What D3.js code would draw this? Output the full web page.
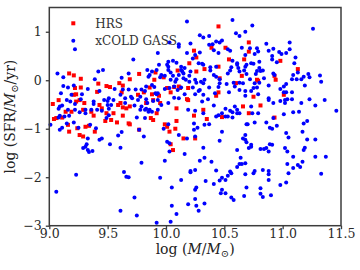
<!DOCTYPE html>
<html>
<head>
<meta charset="utf-8">
<script src="https://cdn.jsdelivr.net/npm/d3@7"></script>
<style>
  body { margin: 0; background: #fff; }
  svg { display: block; font-family: "DejaVu Serif", serif; }
</style>
</head>
<body>
<svg id="chart" width="360" height="270"></svg>
<script>
// axis ticks
const xTicks = [9.0, 9.5, 10.0, 10.5, 11.0, 11.5];
const yTicks = [-3, -2, -1, 0, 1];

// HRS galaxies: [log M, log SFR]
const hrsPoints = [
  [9.17,0.14],[9.21,0.10],[9.77,0.13],[9.42,-0.07],[9.49,-0.12],[9.52,-0.14],[9.60,-0.06],[9.69,0.02],[9.63,-0.11],[9.27,0.03],
  [9.22,-0.16],[9.27,-0.15],[9.41,-0.24],[9.62,-0.25],[9.81,-0.25],[9.21,-0.30],[9.23,-0.29],[9.76,-0.30],[9.83,-0.47],[9.08,-0.41],
  [9.23,-0.44],[9.26,-0.41],[9.30,-0.47],[9.43,-0.51],[9.45,-0.58],[9.59,-0.51],[9.61,-0.47],[9.63,-0.56],[9.66,-0.58],[9.69,-0.54],
  [9.03,-0.49],[9.14,-0.65],[9.19,-0.65],[9.29,-0.61],[9.36,-0.65],[9.38,-0.73],[9.49,-0.68],[9.55,-0.68],[9.48,-0.84],[9.53,-0.82],
  [9.58,-0.87],[9.63,-0.73],[9.68,-0.89],[9.69,-0.91],[9.04,-0.80],[9.06,-0.78],[9.11,-0.77],[9.16,-0.92],[9.17,-1.06],[9.24,-0.99],
  [9.31,-0.96],[9.34,-0.94],[9.39,-1.06],[9.26,-1.13],[9.29,-1.16],[9.77,-1.02],
  [9.86,-0.15],[9.88,-0.29],[9.94,-0.32],[10.01,-0.16],[10.04,-0.25],[10.11,-0.13],[10.19,-0.16],[10.45,-0.25],[10.43,-0.32],[9.89,-0.41],
  [9.95,-0.47],[10.18,-0.39],[10.19,-0.41],[10.66,-0.54],[10.71,-0.68],[10.48,-0.76],[9.87,-0.78],[9.89,-0.82],[9.92,-0.68],[10.09,-0.58],
  [10.24,-0.73],[10.32,-0.61],[10.35,-0.80],[10.09,-0.84],[9.99,-0.91],[10.01,-0.96],[10.03,-1.06],[10.08,-1.00],[10.15,-1.20],[10.25,-1.20],
  [10.04,-1.32],[10.06,-1.44],
  [10.75,-0.34],[11.01,-0.30],[10.81,-0.52],[10.93,-0.77],
  [10.45,1.11],[10.71,0.78],[10.39,0.67],[10.51,0.67],[10.71,0.59],[10.24,0.61],[10.54,0.43],[10.67,0.43],[10.20,0.35],[10.26,0.47],
  [10.45,0.28],[10.65,0.09],[10.78,0.01],[9.91,0.16],[9.90,0.01],[10.10,0.20],[10.26,0.18],[10.33,0.23],[10.46,0.04],[10.60,-0.06],
  [10.07,-0.14],[10.12,-0.16],[10.79,-0.01],[9.98,0.06],
  [10.98,0.40],[11.13,0.23],[10.93,0.09],[10.94,0.01]
];

// xCOLD GASS galaxies: [log M, log SFR]
const xcgPoints = [
  [9.22,0.64],[9.72,0.43],[9.07,0.14],[9.12,0.06],[9.42,0.18],[9.46,0.21],[9.84,0.21],[9.68,0.14],[9.39,0.02],[9.62,0.05],
  [9.21,-0.11],[9.85,0.07],[9.12,-0.12],
  [9.16,-0.15],[9.33,-0.18],[9.43,-0.22],[9.56,-0.18],[9.63,-0.19],[9.68,-0.19],[9.74,-0.19],[9.79,-0.19],[9.82,-0.22],[9.10,-0.27],
  [9.19,-0.30],[9.28,-0.29],[9.51,-0.37],[9.61,-0.30],[9.65,-0.37],[9.70,-0.34],[9.71,-0.37],[9.78,-0.34],[9.76,-0.41],[9.15,-0.41],
  [9.18,-0.44],[9.22,-0.49],[9.27,-0.39],[9.38,-0.44],[9.38,-0.49],[9.47,-0.41],[9.50,-0.43],[9.50,-0.51],[9.53,-0.51],[9.55,-0.41],
  [9.65,-0.47],[9.73,-0.52],[9.78,-0.61],[9.79,-0.54],[9.83,-0.59],[9.09,-0.54],[9.08,-0.59],[9.11,-0.52],[9.16,-0.61],[9.22,-0.61],
  [9.26,-0.66],[9.31,-0.61],[9.31,-0.68],[9.36,-0.61],[9.41,-0.61],[9.45,-0.63],[9.51,-0.59],[9.51,-0.72],[9.49,-0.78],[9.75,-0.77],
  [9.82,-0.78],[9.08,-0.77],[9.09,-0.73],[9.13,-0.75],[9.17,-0.73],[9.21,-0.87],[9.15,-0.89],[9.11,-0.98],[9.09,-1.02],[9.25,-0.98],
  [9.35,-0.92],[9.40,-0.99],[9.45,-1.20],[9.43,-1.23],[9.33,-1.20],[9.52,-1.32],[9.59,-1.14],[9.62,-1.07],[9.77,-1.02],[9.81,-1.16],
  [9.31,-1.37],[9.29,-1.40],[9.32,-1.32],[9.33,-1.44],[9.34,-1.48],[9.37,-1.46],[9.61,-1.39],[9.01,-0.92],
  [9.83,-0.13],[9.91,-0.27],[9.92,-0.29],[9.93,-0.27],[9.99,-0.18],[10.07,-0.13],[10.10,-0.20],[10.13,-0.15],[10.23,-0.15],[10.28,-0.22],
  [10.29,-0.20],[10.37,-0.15],[10.42,-0.27],[10.54,-0.25],[10.59,-0.13],[10.63,-0.20],[10.68,-0.22],[10.68,-0.32],[9.83,-0.39],[9.84,-0.47],
  [9.89,-0.43],[9.93,-0.41],[9.96,-0.51],[10.02,-0.47],[10.07,-0.36],[10.11,-0.37],[10.16,-0.29],[10.25,-0.29],[10.32,-0.30],[10.36,-0.39],
  [10.41,-0.52],[10.31,-0.44],[10.48,-0.68],[10.51,-0.59],[10.55,-0.63],[10.57,-0.66],[10.59,-0.54],[10.61,-0.61],[10.63,-0.68],[10.45,-0.72],
  [10.43,-0.75],[10.51,-0.75],[10.53,-0.75],[10.57,-0.77],[10.61,-0.68],
  [9.82,-0.61],[9.85,-0.65],[9.86,-0.61],[9.88,-0.65],[9.93,-0.61],[10.19,-0.61],[10.25,-0.63],[10.32,-0.68],[10.24,-0.89],[10.02,-0.91],
  [9.98,-1.00],[10.27,-0.98],[10.24,-1.02],[10.33,-0.92],[10.37,-0.91],[10.48,-1.06],[10.69,-0.91],[10.11,-1.13],[10.18,-1.20],[10.25,-1.16],
  [10.46,-1.25],[10.66,-1.20],[10.68,-1.23],[10.69,-1.28],[10.01,-1.27],[10.03,-1.30],[10.32,-1.39],[10.71,-1.40],[10.03,-1.47],[10.16,-1.52],
  [10.33,-1.60],[10.61,-1.44],[10.64,-1.60],
  [10.73,-0.22],[10.75,-0.16],[10.78,-0.15],[10.79,-0.29],[10.88,-0.11],[10.98,-0.18],[11.01,-0.13],[11.01,-0.25],[11.03,-0.25],[11.08,-0.25],
  [11.19,-0.11],[10.88,-0.37],[10.88,-0.41],[10.92,-0.47],[10.98,-0.43],[11.02,-0.41],[11.04,-0.39],[11.08,-0.39],[11.02,-0.47],[10.73,-0.54],
  [11.16,-0.47],[11.23,-0.39],[11.36,-0.41],[11.28,-0.52],[10.74,-0.68],[10.79,-0.68],[11.46,-0.63],[11.09,-0.66],[11.14,-0.65],[10.92,-0.78],
  [11.01,-0.70],[11.21,-0.84],[11.18,-0.89],[10.70,-0.91],[10.76,-0.87],[10.86,-0.87],[10.89,-0.98],[10.91,-1.00],[10.95,-0.94],[11.03,-1.09],
  [11.17,-1.06],[10.68,-1.13],[11.05,-1.18],[11.21,-1.22],[11.28,-1.22],[10.73,-1.33],[10.73,-1.37],[10.89,-1.32],[10.91,-1.33],[10.81,-1.42],
  [10.84,-1.42],[10.86,-1.40],[10.88,-1.47],[11.02,-1.40],[11.04,-1.47],[11.19,-1.39],[11.18,-1.44],[11.09,-1.58],[11.28,-1.58],[11.37,-1.58],
  [9.23,-1.95],[9.06,-2.30],[9.64,-1.89],[9.66,-1.99],[9.68,-2.00],[9.79,-1.70],[9.73,-2.42],[9.61,-2.69],[9.75,-2.79],
  [9.99,-1.66],[10.29,-1.66],[10.39,-1.68],[10.68,-1.71],[10.65,-1.73],[10.63,-1.73],[10.61,-1.79],[10.21,-1.87],[10.21,-1.90],[10.25,-1.85],
  [10.43,-1.86],[10.55,-1.88],[10.56,-1.92],[10.53,-1.97],[10.48,-2.01],[10.51,-2.06],[10.46,-2.07],[10.68,-1.94],[9.95,-2.01],[10.13,-2.06],
  [10.34,-2.08],[10.41,-2.14],[10.05,-2.21],[10.26,-2.21],[10.25,-2.26],[10.69,-2.21],[10.48,-2.26],[10.47,-2.33],[10.51,-2.33],[10.56,-2.42],
  [10.58,-2.47],[10.67,-2.39],[10.25,-2.45],[10.19,-2.56],[10.33,-2.54],[10.05,-2.59],[10.26,-2.59],[10.28,-2.69],[10.09,-2.76],[9.92,-2.94],
  [10.04,-2.92],
  [11.17,-1.68],[11.04,-1.73],[11.13,-1.75],[11.15,-1.79],[11.09,-1.81],[10.76,-1.87],[10.75,-1.92],[10.83,-1.85],[10.88,-1.87],[10.88,-1.94],
  [11.05,-1.92],[11.33,-1.93],[10.88,-2.06],[11.03,-2.11],[10.98,-2.16],[10.81,-2.23],[10.81,-2.34],[10.83,-2.41],[10.90,-2.37],
  [10.18,1.21],[10.57,1.24],[10.60,0.97],[10.63,0.91],[10.68,1.00],[10.29,0.93],[10.32,0.88],[10.37,0.91],[10.48,0.82],[10.46,0.78],
  [10.43,0.80],[10.40,0.74],[10.37,0.73],[9.93,0.56],[10.03,0.78],[10.11,0.74],[10.11,0.69],[10.21,0.76],[10.41,0.62],[10.53,0.64],
  [10.55,0.61],[10.65,0.67],[10.72,0.66],[10.29,0.57],[10.18,0.56],[10.25,0.52],[10.23,0.45],[10.45,0.56],[10.68,0.52],[10.79,0.59],
  [10.02,0.38],[10.06,0.40],[10.09,0.36],[10.01,0.32],[10.02,0.28],[10.28,0.35],[10.31,0.34],[10.32,0.32],[10.38,0.27],[10.43,0.28],
  [10.57,0.40],[10.61,0.35],[10.61,0.32],[10.56,0.27],[10.55,0.20],[10.53,0.14],[10.69,0.32],[10.68,0.28],[10.67,0.20],[10.73,0.35],
  [10.62,0.25],[10.63,0.18],[10.69,0.13],[10.77,0.13],[9.94,0.32],[9.92,0.21],[9.88,0.18],[9.86,0.11],[10.02,0.21],[10.04,0.16],
  [10.13,0.28],[10.13,0.21],[10.14,0.18],[10.15,0.14],[10.11,0.11],[10.16,0.25],[10.21,0.18],[10.20,0.09],[10.38,0.20],[10.41,0.11],
  [10.43,0.07],[10.46,0.02],[10.33,0.01],[9.96,0.11],[9.95,0.06],[9.99,0.09],[10.06,0.09],[10.09,0.02],[10.04,0.01],[10.08,-0.03],
  [10.15,0.04],[10.17,0.01],[10.20,-0.03],[10.25,0.01],[10.26,-0.05],[10.30,-0.03],[10.32,-0.06],[10.46,-0.06],[10.52,-0.08],[10.58,-0.05],
  [10.63,-0.05],[10.66,-0.06],[10.72,0.02],[10.03,-0.16],[10.45,-0.14],[9.88,-0.10],[9.90,-0.14],
  [10.74,1.13],[11.26,1.06],[10.86,0.75],[10.92,0.65],[10.88,0.61],[11.06,0.78],[11.06,0.64],[10.78,0.66],[10.76,0.54],[10.97,0.58],
  [10.99,0.54],[11.03,0.56],[10.91,0.50],[10.91,0.43],[11.11,0.47],[10.80,0.38],[10.75,0.34],[10.95,0.37],[11.10,0.35],[10.80,0.25],
  [10.78,0.19],[10.81,0.19],[10.83,0.20],[11.13,0.16],[10.92,0.14],[10.93,0.11],[10.84,0.04],[11.09,0.11],[11.08,0.02],[11.12,0.02],
  [11.16,0.02],[11.18,0.07],[11.22,0.13],[11.23,0.06],[11.32,0.10],[11.33,-0.03],[10.80,-0.05],[10.76,-0.06],[11.03,-0.08]
];

const legendItems = ['HRS', 'xCOLD GASS'];

const red = '#ff0000';
const blue = '#0000ff';
const frameColor = '#3c3c3c';
const sq = 4.0;   // HRS square side
const dot = 2.0;  // xCOLD GASS dot radius

const svg = d3.select('#chart');
const plotLeft = 49.3, plotRight = 341, plotTop = 7.5, plotBottom = 225.7;

const x = d3.scaleLinear().domain([9, 11.5]).range([plotLeft, plotRight]);
const y = d3.scaleLinear().domain([-3, 1.5]).range([plotBottom, plotTop]);

// axes (outward ticks, no domain line - the frame is drawn separately)
const xAxis = svg.append('g')
  .attr('transform', `translate(0,${plotBottom})`)
  .call(d3.axisBottom(x).tickValues(xTicks).tickFormat(d3.format('.1f')).tickSize(3.5).tickSizeOuter(0));
const yAxis = svg.append('g')
  .attr('transform', `translate(${plotLeft},0)`)
  .call(d3.axisLeft(y).tickValues(yTicks).tickFormat(d3.format('d')).tickSize(3.5).tickSizeOuter(0).tickPadding(4));

[xAxis, yAxis].forEach(g => {
  g.select('.domain').remove();
  g.selectAll('.tick line').attr('stroke', frameColor).attr('stroke-width', 1.3);
  g.selectAll('.tick text')
    .attr('fill', '#2a2a2a')
    .style('font-family', '"DejaVu Serif", serif')
    .style('font-size', '12.5px');
});
xAxis.selectAll('.tick text').attr('y', 3);

// markers
svg.append('g').selectAll('rect')
  .data(hrsPoints).enter()
  .append('rect')
  .attr('x', d => x(d[0]) - sq / 2)
  .attr('y', d => y(d[1]) - sq / 2)
  .attr('width', sq)
  .attr('height', sq)
  .attr('fill', red);

svg.append('g').selectAll('circle')
  .data(xcgPoints).enter()
  .append('circle')
  .attr('cx', d => x(d[0]))
  .attr('cy', d => y(d[1]))
  .attr('r', dot)
  .attr('fill', blue);

// frame
svg.append('rect')
  .attr('x', plotLeft).attr('y', plotTop)
  .attr('width', plotRight - plotLeft).attr('height', plotBottom - plotTop)
  .attr('fill', 'none')
  .attr('stroke', frameColor)
  .attr('stroke-width', 1.5);

// legend
const legend = svg.append('g').attr('transform', 'translate(73.3,23.3)');
legend.append('rect').attr('x', -sq / 2).attr('y', -sq / 2).attr('width', sq).attr('height', sq).attr('fill', red);
legend.append('circle').attr('cx', 0).attr('cy', 17.4).attr('r', dot).attr('fill', blue);
legend.selectAll('text')
  .data(legendItems).enter()
  .append('text')
  .attr('x', 22)
  .attr('y', (d, i) => i * 17.4 + 4.5)
  .attr('fill', '#333')
  .style('font-size', '12px')
  .text(d => d);

// axis labels
const xLabel = svg.append('text')
  .attr('x', (plotLeft + plotRight) / 2)
  .attr('y', 254)
  .attr('text-anchor', 'middle')
  .attr('fill', '#222')
  .style('font-size', '14px');
xLabel.append('tspan').text('log (');
xLabel.append('tspan').style('font-style', 'italic').text('M');
xLabel.append('tspan').text('/');
xLabel.append('tspan').style('font-style', 'italic').text('M');
xLabel.append('tspan').attr('dy', 3).style('font-size', '10px').text('\u2299');
xLabel.append('tspan').attr('dy', -3).text(')');

const yLabel = svg.append('text')
  .attr('transform', `translate(15,${(plotTop + plotBottom) / 2}) rotate(-90)`)
  .attr('text-anchor', 'middle')
  .attr('fill', '#222')
  .style('font-size', '14px');
yLabel.append('tspan').text('log (SFR/');
yLabel.append('tspan').style('font-style', 'italic').text('M');
yLabel.append('tspan').attr('dy', 3).style('font-size', '10px').text('\u2299');
yLabel.append('tspan').attr('dy', -3).text('/yr)');
</script>
</body>
</html>
